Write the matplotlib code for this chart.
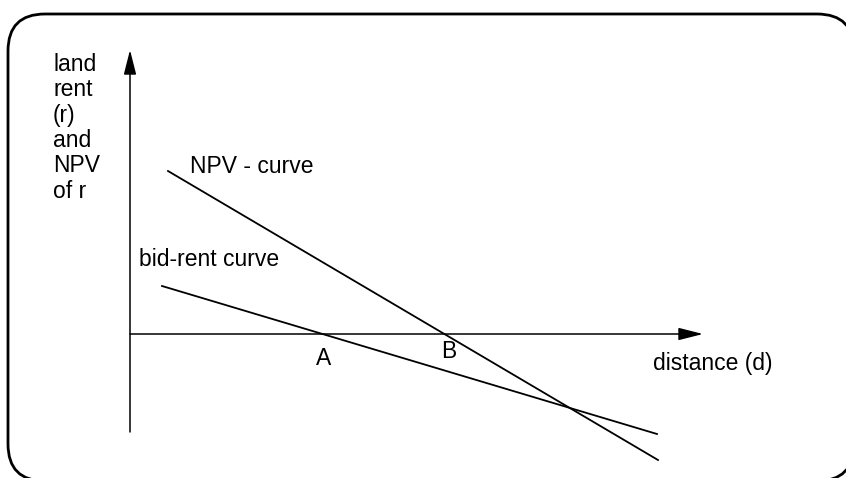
#!/usr/bin/env python3

# bid-rent curve vs NPV curve sketch
import matplotlib.pyplot as plt
from matplotlib.patches import FancyBboxPatch

plt.rcParams['font.family'] = ['Liberation Sans', 'DejaVu Sans']

# distance d and value r at the two ends of each straight line
bid_d = [0.32, 5.27]
bid_r = [0.48, -1.00]
npv_d = [0.38, 5.28]
npv_r = [1.63, -1.26]

# extent of the drawn axes
d_max = 5.73
r_min = -0.98
r_max = 2.84

fig = plt.figure(figsize=(8.46, 4.78), dpi=100)
ax = fig.add_axes([0, 0, 1, 1])
ax.set_xlim(-1.30, 7.16)
ax.set_ylim(-1.44, 3.34)
ax.axis('off')

# rounded frame round the whole sketch (right and bottom run off the picture).
# filled white so Agg does not clip the outline into a line along the edge
frame = FancyBboxPatch((-1.22, -1.47), 8.46, 4.67,
                       boxstyle="round,pad=0,rounding_size=0.37",
                       fc='white', ec='black', lw=2.0, clip_on=False, zorder=0)
ax.add_patch(frame)

# axes with arrow heads
arrow = dict(arrowstyle='-|>,head_length=1.5,head_width=0.38', color='black',
             lw=1.1, shrinkA=0, shrinkB=0, mutation_scale=10)
ax.annotate('', xy=(0, r_max), xytext=(0, r_min), arrowprops=arrow)
ax.annotate('', xy=(d_max, 0), xytext=(0, 0), arrowprops=arrow)

ax.plot(npv_d, npv_r, color='black', lw=1.3)
ax.plot(bid_d, bid_r, color='black', lw=1.3)

fs = 16.5
ax.text(-0.77, 2.81, 'land\nrent\n(r)\nand\nNPV\nof r', fontsize=fs,
        va='top', ha='left', linespacing=1.13)
ax.text(0.60, 1.61, 'NPV - curve', fontsize=fs, va='baseline')
ax.text(0.09, 0.68, 'bid-rent curve', fontsize=fs, va='baseline')
ax.text(1.94, -0.31, 'A', fontsize=fs, va='baseline', ha='center')
ax.text(3.19, -0.24, 'B', fontsize=fs, va='baseline', ha='center')
ax.text(5.23, -0.36, 'distance (d)', fontsize=fs, va='baseline')

plt.savefig('out.png', dpi=100)
